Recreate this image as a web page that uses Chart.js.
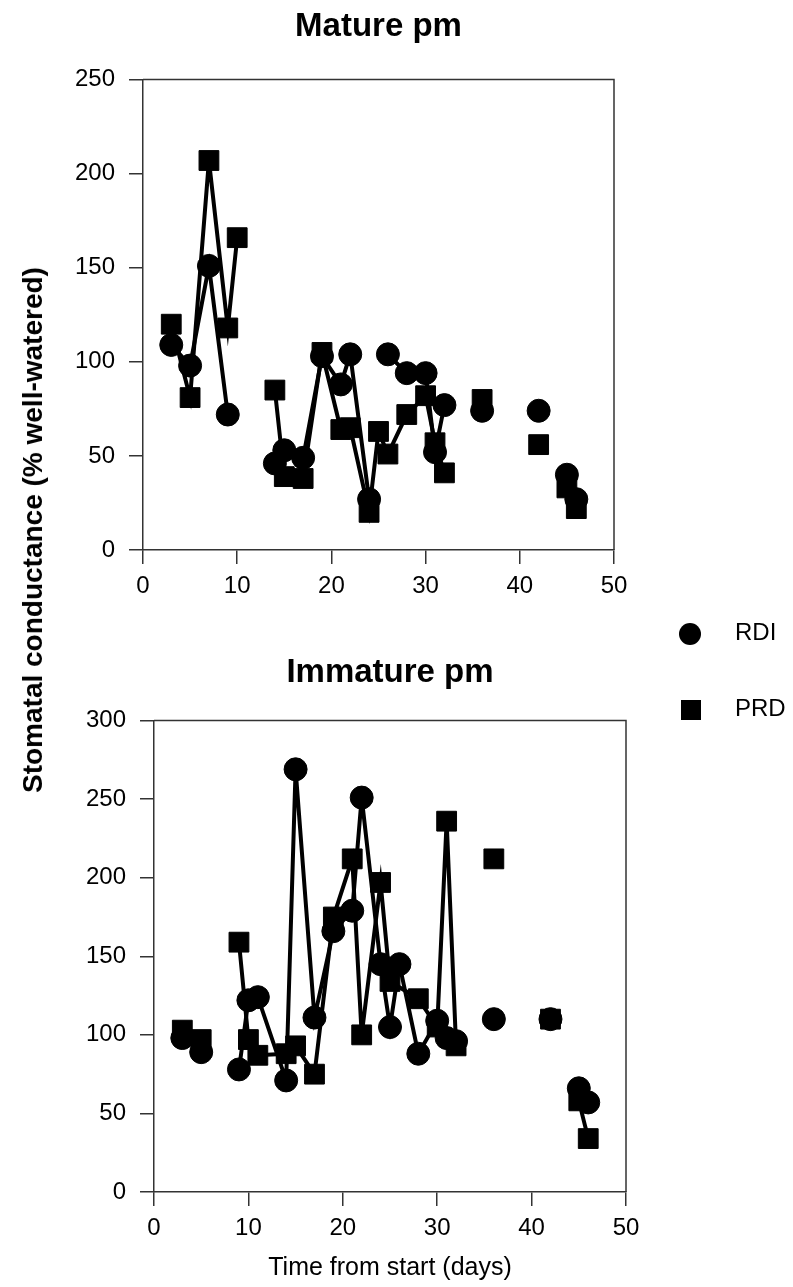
<!DOCTYPE html>
<html>
<head>
<meta charset="utf-8">
<script src="https://cdn.jsdelivr.net/npm/chart.js@4.4.0/dist/chart.umd.min.js"></script>
<style>
    html, body { margin: 0; padding: 0; background: #fff; }
    #wrap { position: relative; width: 793px; height: 1287px; font-family: "Liberation Sans", Arial, sans-serif; color: #000; }
    #wrap canvas { position: absolute; left: 0; }
    #ytitle { position: absolute; left: 33px; top: 530px; transform: translate(-50%, -50%) rotate(-90deg); font-weight: bold; font-size: 28px; white-space: nowrap; }
    .legItem { position: absolute; left: 735px; font-size: 24px; line-height: 24px; }
    .legMark { position: absolute; background: #000; }
</style>
</head>
<body>
<div id="wrap">
    <canvas id="matureChart"></canvas>
    <canvas id="immatureChart"></canvas>
    <div id="ytitle">Stomatal conductance (% well-watered)</div>
    <div id="legend"></div>
</div>
<script>
var seriesNames = ['RDI', 'PRD'];
var chartTitles = ['Mature pm', 'Immature pm'];
var xTitle = 'Time from start (days)';

// Mature leaves
var matureRdiDays = [3, 5, 7, 9, 14, 15, 17, 19, 21, 22, 24, 26, 28, 30, 31, 32, 36, 42, 45, 46];
var matureRdiValues = [109, 98, 151, 72, 46, 53, 49, 103, 88, 104, 27, 104, 94, 94, 52, 77, 74, 74, 40, 27];
var matureRdiBreaks = [9, 24, 32, 36, 42];
var maturePrdDays = [3, 5, 7, 9, 10, 14, 15, 17, 19, 21, 22, 24, 25, 26, 28, 30, 31, 32, 36, 42, 45, 46];
var maturePrdValues = [120, 81, 207, 118, 166, 85, 39, 38, 105, 64, 65, 20, 63, 51, 72, 82, 57, 41, 80, 56, 33, 22];
var maturePrdBreaks = [10, 32, 36, 42];

// Immature leaves
var immatureRdiDays = [3, 5, 9, 10, 11, 14, 15, 17, 19, 21, 22, 24, 25, 26, 28, 30, 31, 32, 36, 42, 45, 46];
var immatureRdiValues = [98, 89, 78, 122, 124, 71, 269, 111, 166, 179, 251, 145, 105, 145, 88, 109, 98, 96, 110, 110, 66, 57];
var immatureRdiBreaks = [5, 32, 36, 42];
var immaturePrdDays = [3, 5, 9, 10, 11, 14, 15, 17, 19, 21, 22, 24, 25, 28, 30, 31, 32, 36, 42, 45, 46];
var immaturePrdValues = [103, 97, 159, 97, 87, 88, 93, 75, 175, 212, 100, 197, 134, 123, 105, 236, 93, 212, 110, 58, 34];
var immaturePrdBreaks = [5, 32, 36, 42];

var xTicks = [0, 10, 20, 30, 40, 50];
var matureYTicks = [0, 50, 100, 150, 200, 250];
var immatureYTicks = [0, 50, 100, 150, 200, 250, 300];

var FONT = '"Liberation Sans", Arial, sans-serif';
var AXIS = '#333';

function toPoints(days, values) {
    return days.map(function (d, i) { return { x: d, y: values[i] }; });
}

function makeSeries(label, days, values, breaks, style, radius) {
    return {
        label: label,
        data: toPoints(days, values),
        showLine: true,
        borderColor: '#000',
        borderWidth: 4,
        pointStyle: style,
        pointRadius: radius,
        pointHoverRadius: radius,
        pointBackgroundColor: '#000',
        pointBorderColor: '#000',
        pointBorderWidth: 1,
        clip: false,
        segment: {
            borderColor: function (ctx) {
                return breaks.indexOf(days[ctx.p0DataIndex]) >= 0 ? 'rgba(0,0,0,0)' : '#000';
            }
        }
    };
}

var framePlugin = {
    id: 'frame',
    beforeDatasetsDraw: function (chart) {
        var a = chart.chartArea, ctx = chart.ctx;
        ctx.save();
        ctx.strokeStyle = AXIS;
        ctx.lineWidth = 1.5;
        ctx.beginPath();
        ctx.moveTo(a.left, a.top);
        ctx.lineTo(a.right, a.top);
        ctx.lineTo(a.right, a.bottom);
        ctx.stroke();
        ctx.restore();
    }
};

function makeChart(id, top, height, cfg) {
    var canvas = document.getElementById(id);
    canvas.style.top = top + 'px';
    canvas.width = 793;
    canvas.height = height;
    canvas.style.width = '793px';
    canvas.style.height = height + 'px';
    return new Chart(canvas, {
        type: 'scatter',
        data: { datasets: cfg.datasets },
        plugins: [framePlugin],
        options: {
            responsive: false,
            animation: false,
            events: [],
            layout: { padding: { left: 0, top: 0, right: cfg.padRight, bottom: 0 } },
            plugins: {
                legend: { display: false },
                tooltip: { enabled: false },
                title: {
                    display: true,
                    fullSize: false,
                    text: cfg.title,
                    color: '#000',
                    font: { family: FONT, size: 33, weight: 'bold' },
                    padding: cfg.titlePad
                }
            },
            scales: {
                x: {
                    type: 'linear',
                    min: 0,
                    max: 50,
                    afterFit: function (scale) { scale.height = cfg.xHeight; },
                    afterBuildTicks: function (scale) { scale.ticks = xTicks.map(function (v) { return { value: v }; }); },
                    grid: { drawOnChartArea: false, drawTicks: true, tickLength: 14, color: AXIS, lineWidth: 1.5 },
                    border: { display: true, color: AXIS, width: 1.5 },
                    ticks: { color: '#000', padding: 8, maxRotation: 0, font: { family: FONT, size: 24 } },
                    title: cfg.xTitle ? {
                        display: true,
                        text: xTitle,
                        color: '#000',
                        font: { family: FONT, size: 25 },
                        padding: { top: 0, bottom: 4 }
                    } : { display: false }
                },
                y: {
                    type: 'linear',
                    min: 0,
                    max: cfg.yTicks[cfg.yTicks.length - 1],
                    afterFit: function (scale) { scale.width = cfg.yWidth; },
                    afterBuildTicks: function (scale) { scale.ticks = cfg.yTicks.map(function (v) { return { value: v }; }); },
                    grid: { drawOnChartArea: false, drawTicks: true, tickLength: 14, color: AXIS, lineWidth: 1.5 },
                    border: { display: true, color: AXIS, width: 1.5 },
                    ticks: { color: '#000', padding: 14, font: { family: FONT, size: 24 } }
                }
            }
        }
    });
}

makeChart('matureChart', 0, 600, {
    title: chartTitles[0],
    titlePad: { top: 7, bottom: 33 },
    padRight: 179,
    yWidth: 143,
    xHeight: 50,
    yTicks: matureYTicks,
    xTitle: false,
    datasets: [
        makeSeries(seriesNames[0], matureRdiDays, matureRdiValues, matureRdiBreaks, 'circle', 11.5),
        makeSeries(seriesNames[1], maturePrdDays, maturePrdValues, maturePrdBreaks, 'rect', 14)
    ]
});

makeChart('immatureChart', 600, 687, {
    title: chartTitles[1],
    titlePad: { top: 53, bottom: 28 },
    padRight: 167,
    yWidth: 154,
    xHeight: 95,
    yTicks: immatureYTicks,
    xTitle: true,
    datasets: [
        makeSeries(seriesNames[0], immatureRdiDays, immatureRdiValues, immatureRdiBreaks, 'circle', 11.5),
        makeSeries(seriesNames[1], immaturePrdDays, immaturePrdValues, immaturePrdBreaks, 'rect', 14)
    ]
});

// shared legend on the right
(function () {
    var legend = document.getElementById('legend');
    var rows = [
        { name: seriesNames[0], y: 634, size: 22, mark: 'left:679px;border-radius:50%;' },
        { name: seriesNames[1], y: 710, size: 20, mark: 'left:681px;' }
    ];
    rows.forEach(function (r) {
        var m = document.createElement('div');
        m.className = 'legMark';
        m.style.cssText = r.mark + 'width:' + r.size + 'px;height:' + r.size + 'px;top:' + (r.y - r.size / 2) + 'px;';
        legend.appendChild(m);
        var t = document.createElement('div');
        t.className = 'legItem';
        t.style.top = (r.y - 14) + 'px';
        t.textContent = r.name;
        legend.appendChild(t);
    });
})();
</script>
</body>
</html>
